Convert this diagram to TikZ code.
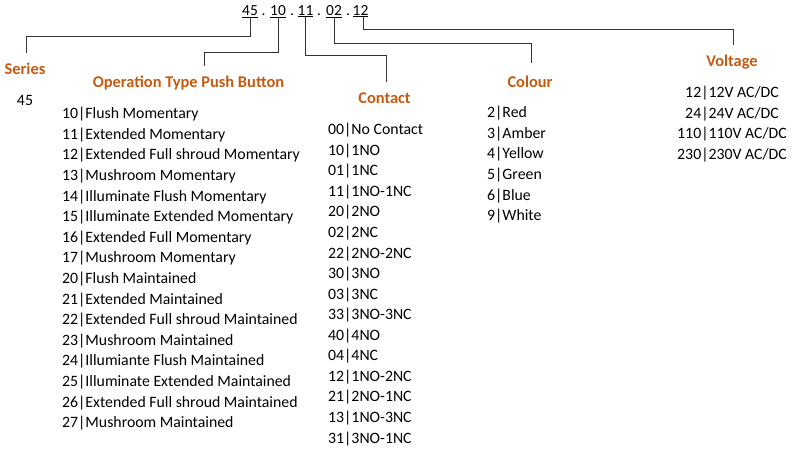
\documentclass[tikz,border=0pt]{standalone}
\usepackage{fontspec}
\setmainfont{Carlito}
\definecolor{hdrorange}{HTML}{C55A11}
\tikzset{
	every node/.style={inner sep=0pt, font=\fontsize{15.8}{19}\selectfont},
	code/.style={anchor=base, font=\fontsize{15.4}{18}\selectfont},
	hdr/.style={anchor=base, font=\fontsize{16.4}{19}\selectfont\bfseries, text=hdrorange},
	item/.style={anchor=base west},
	conn/.style={draw=black!80, line width=0.8pt}
}
\begin{document}
\begin{tikzpicture}[x=1pt,y=-1pt]
	\useasboundingbox (0,0) rectangle (794,452);
	
	% part number
	\node[code] (n45) at (250,15.3) {\underline{45}};
	\node[code] (dot1) at (263.5,15.3) {.};
	\node[code] (n10) at (278,15.3) {\underline{10}};
	\node[code] (dot2) at (292,15.3) {.};
	\node[code] (n11) at (305.5,15.3) {\underline{11}};
	\node[code] (dot3) at (319,15.3) {.};
	\node[code] (n02) at (334,15.3) {\underline{02}};
	\node[code] (dot4) at (348,15.3) {.};
	\node[code] (n12) at (360.5,15.3) {\underline{12}};
	
	% headings
	\node[hdr] (series) at (25,74.7) {Series};
	\node[hdr] (optype) at (188.5,87.7) {Operation Type Push Button};
	\node[hdr] (contact) at (384.5,103.7) {Contact};
	\node[hdr] (colour) at (530,87.2) {Colour};
	\node[hdr] (voltage) at (732,66.7) {Voltage};
	
	\coordinate (seriesEnd) at (26,53);
	\coordinate (optypeEnd) at (204,66);
	\coordinate (contactEnd) at (386,82);
	\coordinate (colourEnd) at (531,63);
	\coordinate (voltageEnd) at (733,45);
	
	\draw[conn] (n45.south) -- (n45.south |- 0,36) -| (seriesEnd);
	\draw[conn] (n10.south) -- (n10.south |- 0,52) -| (optypeEnd);
	\draw[conn] (n11.south) -- (n11.south |- 0,55) -| (contactEnd);
	\draw[conn] (n02.south) -- (n02.south |- 0,43) -| (colourEnd);
	\draw[conn] ([xshift=2.5pt]n12.south) -- ([xshift=2.5pt]n12.south |- 0,29) -| (voltageEnd);
	
	% series
	\node[anchor=base] (s45) at (25,105.7) {45};
	
	% operation type
	\node[item] (op10) at (62,118.7) {10|Flush Momentary};
	\node[item] (op11) at (62,139.3) {11|Extended Momentary};
	\node[item] (op12) at (62,159.9) {12|Extended Full shroud Momentary};
	\node[item] (op13) at (62,180.5) {13|Mushroom Momentary};
	\node[item] (op14) at (62,201.1) {14|Illuminate Flush Momentary};
	\node[item] (op15) at (62,221.7) {15|Illuminate Extended Momentary};
	\node[item] (op16) at (62,242.3) {16|Extended Full Momentary};
	\node[item] (op17) at (62,262.9) {17|Mushroom Momentary};
	\node[item] (op20) at (62,283.5) {20|Flush Maintained};
	\node[item] (op21) at (62,304.1) {21|Extended Maintained};
	\node[item] (op22) at (62,324.7) {22|Extended Full shroud Maintained};
	\node[item] (op23) at (62,345.3) {23|Mushroom Maintained};
	\node[item] (op24) at (62,365.9) {24|Illumiante Flush Maintained};
	\node[item] (op25) at (62,386.5) {25|Illuminate Extended Maintained};
	\node[item] (op26) at (62,407.1) {26|Extended Full shroud Maintained};
	\node[item] (op27) at (62,427.7) {27|Mushroom Maintained};
	
	% contact
	\node[item] (ct00) at (328,134.7) {00|No Contact};
	\node[item] (ct10) at (328,155.3) {10|1NO};
	\node[item] (ct01) at (328,175.8) {01|1NC};
	\node[item] (ct11) at (328,196.4) {11|1NO-1NC};
	\node[item] (ct20) at (328,216.9) {20|2NO};
	\node[item] (ct02) at (328,237.5) {02|2NC};
	\node[item] (ct22) at (328,258.0) {22|2NO-2NC};
	\node[item] (ct30) at (328,278.6) {30|3NO};
	\node[item] (ct03) at (328,299.1) {03|3NC};
	\node[item] (ct33) at (328,319.7) {33|3NO-3NC};
	\node[item] (ct40) at (328,340.2) {40|4NO};
	\node[item] (ct04) at (328,360.8) {04|4NC};
	\node[item] (ct12) at (328,381.3) {12|1NO-2NC};
	\node[item] (ct21) at (328,401.9) {21|2NO-1NC};
	\node[item] (ct13) at (328,422.4) {13|1NO-3NC};
	\node[item] (ct31) at (328,443.0) {31|3NO-1NC};
	
	% colour
	\node[item] (col2) at (487,117.7) {2|Red};
	\node[item] (col3) at (487,138.3) {3|Amber};
	\node[item] (col4) at (487,158.9) {4|Yellow};
	\node[item] (col5) at (487,179.5) {5|Green};
	\node[item] (col6) at (487,200.1) {6|Blue};
	\node[item] (col9) at (487,220.7) {9|White};
	
	% voltage
	\node[anchor=base] (v12) at (732,97.5) {12|12V AC/DC};
	\node[anchor=base] (v24) at (732,118.2) {24|24V AC/DC};
	\node[anchor=base] (v110) at (732,138.8) {110|110V AC/DC};
	\node[anchor=base] (v230) at (732,159.5) {230|230V AC/DC};
\end{tikzpicture}
\end{document}
